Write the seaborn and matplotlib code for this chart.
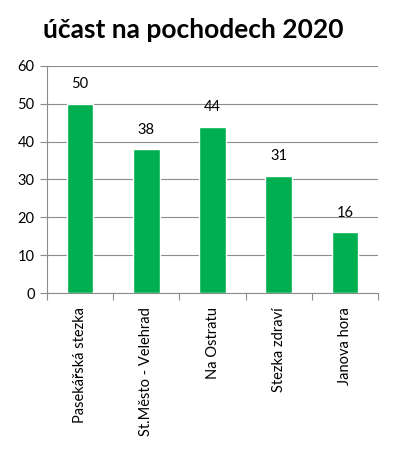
import matplotlib
matplotlib.use("Agg")
import matplotlib.pyplot as plt
import seaborn as sns
import pandas as pd
from matplotlib.ticker import FixedLocator

# data
trasy = ["Pasekářská stezka", "St.Město - Velehrad", "Na Ostratu", "Stezka zdraví", "Janova hora"]
ucast = [50, 38, 44, 31, 16]

df = pd.DataFrame({"trasa": trasy, "ucast": ucast})

sns.set_theme(style="white")
plt.rcParams["font.family"] = ["Lato", "DejaVu Sans"]

fig = plt.figure(figsize=(3.95, 4.55), dpi=100)
ax = fig.add_axes([0.119, 0.356, 0.838, 0.499])

sns.barplot(data=df, x="trasa", y="ucast", color="#00B050", width=0.4,
            saturation=1, ax=ax, zorder=3)

ax.set_ylim(0, 60)
ax.set_yticks(range(0, 61, 10))
ax.set_xlim(-0.5, len(trasy) - 0.5)
ax.yaxis.grid(True, color="#8c8c8c", linewidth=0.8, zorder=0)
ax.set_xlabel("")
ax.set_ylabel("")

for s in ["top", "right"]:
    ax.spines[s].set_visible(False)
for s in ["left", "bottom"]:
    ax.spines[s].set_color("#8c8c8c")
    ax.spines[s].set_linewidth(0.8)

# category boundary ticks like excel
ax.xaxis.set_minor_locator(FixedLocator([i - 0.5 for i in range(len(trasy) + 1)]))
ax.tick_params(axis="x", which="minor", length=5, width=0.8, color="#8c8c8c", bottom=True)
ax.tick_params(axis="x", which="major", length=0, pad=10)
ax.tick_params(axis="y", length=5, width=0.8, color="#8c8c8c", left=True, pad=4)
ax.set_xticks(range(len(trasy)))
ax.set_xticklabels(trasy, rotation=90, va="top", ha="center", fontsize=10.5, color="black")
for lbl in ax.get_yticklabels():
    lbl.set_fontsize(10.5)
    lbl.set_color("black")

for i, v in enumerate(ucast):
    ax.annotate(str(v), (i, v), xytext=(0, 9), textcoords="offset points",
                ha="center", va="bottom", fontsize=10.5, color="black")

fig.text(0.49, 0.935, "účast na pochodech 2020", ha="center", va="center",
         fontsize=19, fontweight="bold", color="black")

fig.savefig("out.png", dpi=100)
